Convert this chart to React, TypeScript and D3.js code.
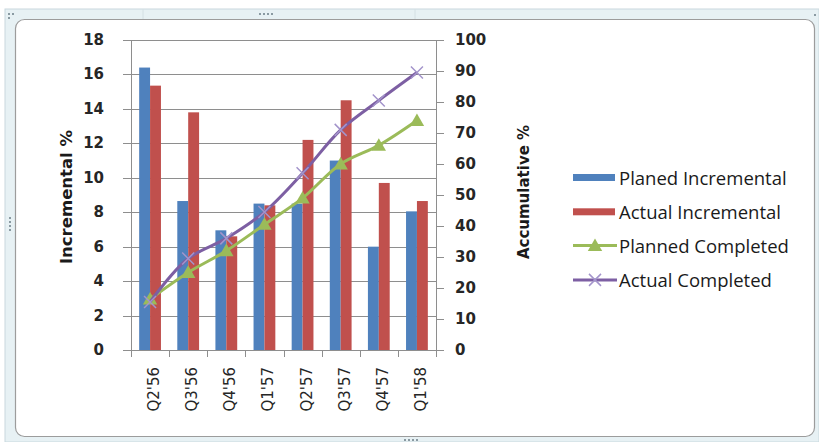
import React from "react";
import * as d3 from "d3";

const categories = ["Q2'56", "Q3'56", "Q4'56", "Q1'57", "Q2'57", "Q3'57", "Q4'57", "Q1'58"];
const plannedIncremental = [16.4, 8.65, 6.95, 8.5, 8.5, 11.0, 6.0, 8.05];
const actualIncremental = [15.35, 13.8, 6.6, 8.4, 12.2, 14.5, 9.7, 8.65];
const plannedCompleted = [16.4, 25, 32, 40.5, 49, 60, 66, 74];
const actualCompleted = [15.5, 29.5, 36, 44.5, 57, 71, 80.5, 89.5];
const leftTicks = [0, 2, 4, 6, 8, 10, 12, 14, 16, 18];
const rightTicks = [0, 10, 20, 30, 40, 50, 60, 70, 80, 90, 100];
const legendItems = ["Planed Incremental", "Actual Incremental", "Planned Completed", "Actual Completed"];

const BLUE = "#4F81BD";
const RED = "#C0504D";
const GREEN = "#9BBB59";
const PURPLE = "#7D5FA3";
const PURPLE_MARK = "#A394CB";
const GRID = "#8E8E8E";
const TXT = "#1a1a1a";

export default function App() {
  const W = 819, H = 442;
  const left = 131, right = 436, top = 40, bottom = 350;
  const x = d3.scaleBand().domain(categories).range([left, right]).paddingInner(0).paddingOuter(0);
  const bw = x.bandwidth() / 3.5;
  const yL = d3.scaleLinear().domain([0, 18]).range([bottom, top]);
  const yR = d3.scaleLinear().domain([0, 100]).range([bottom, top]);
  const cx = (c: string) => (x(c) as number) + x.bandwidth() / 2;

  const line = d3.line<number>()
    .x((_, i) => cx(categories[i]))
    .y((v) => yR(v))
    .curve(d3.curveCatmullRom.alpha(0.5));

  const tri = (px: number, py: number, s: number) =>
    `M${px},${py - s * 0.6}L${px + s * 0.6},${py + s * 0.45}L${px - s * 0.6},${py + s * 0.45}Z`;
  const cross = (px: number, py: number, s: number) =>
    `M${px - s},${py - s}L${px + s},${py + s}M${px - s},${py + s}L${px + s},${py - s}`;

  const tickFont = { fontFamily: "DejaVu Sans", fontSize: 15, fontWeight: "bold" as const, fill: "#262626" };
  const catFont = { fontFamily: "DejaVu Sans", fontSize: 15, fill: "#262626" };

  return (
    <svg width={W} height={H} style={{ position: "absolute", left: 0, top: 0 }}
      xmlns="http://www.w3.org/2000/svg">
      <rect x={0} y={0} width={W} height={H} fill="#ffffff" />
      {/* frame strip */}
      <rect x={5} y={9} width={W - 5} height={H - 9} fill="#e7f1f4" stroke="#c9d8de" strokeWidth={1} />
      <line x1={143} y1={9} x2={143} y2={19} stroke="#d4e0e4" />
      <line x1={415} y1={9} x2={415} y2={19} stroke="#d4e0e4" />
      {[0, 1, 2, 3].map((i) => (
        <rect key={"ht" + i} x={259 + i * 4} y={13} width={2} height={2} fill="#8a9aa2" />
      ))}
      {[0, 1, 2, 3].map((i) => (
        <rect key={"hb" + i} x={404 + i * 4} y={439} width={2} height={2} fill="#8a9aa2" />
      ))}
      {[0, 1, 2, 3].map((i) => (
        <rect key={"hl" + i} x={9} y={217 + i * 4} width={2} height={2} fill="#8a9aa2" />
      ))}
      <rect x={8} y={13} width={2} height={2} fill="#8a9aa2" />
      <rect x={12} y={13} width={2} height={2} fill="#8a9aa2" />
      <rect x={8} y={17} width={2} height={2} fill="#8a9aa2" />
      <rect x={814} y={14} width={2} height={2} fill="#8a9aa2" />
      <rect x={15.5} y={19.5} width={799} height={417} rx={9} ry={9} fill="#ffffff" stroke="#9c9c9c" strokeWidth={1.2} />

      {/* gridlines */}
      {leftTicks.filter((t) => t > 0).map((t) => (
        <line key={"g" + t} x1={left} x2={right} y1={Math.round(yL(t)) + 0.5} y2={Math.round(yL(t)) + 0.5}
          stroke={GRID} strokeWidth={1} />
      ))}

      {/* bars */}
      {categories.map((c, i) => {
        const x0 = (x(c) as number) + (x.bandwidth() - 2 * bw) / 2;
        return (
          <g key={"b" + c}>
            <rect x={x0} y={yL(plannedIncremental[i])} width={bw} height={bottom - yL(plannedIncremental[i])} fill={BLUE} />
            <rect x={x0 + bw} y={yL(actualIncremental[i])} width={bw} height={bottom - yL(actualIncremental[i])} fill={RED} />
          </g>
        );
      })}

      {/* axes */}
      <line x1={left + 0.5} x2={left + 0.5} y1={top} y2={bottom} stroke={GRID} />
      <line x1={right + 0.5} x2={right + 0.5} y1={top} y2={bottom} stroke={GRID} />
      <line x1={left} x2={right + 1} y1={bottom + 0.5} y2={bottom + 0.5} stroke={GRID} />
      {leftTicks.map((t) => (
        <g key={"lt" + t}>
          <line x1={left - 8} x2={left} y1={Math.round(yL(t)) + 0.5} y2={Math.round(yL(t)) + 0.5} stroke={GRID} />
          <text x={104} y={yL(t)} textAnchor="end" dominantBaseline="central" {...tickFont}>{t}</text>
        </g>
      ))}
      {rightTicks.map((t) => (
        <g key={"rt" + t}>
          <line x1={right} x2={right + 8} y1={Math.round(yR(t)) + 0.5} y2={Math.round(yR(t)) + 0.5} stroke={GRID} />
          <text x={455} y={yR(t)} textAnchor="start" dominantBaseline="central" {...tickFont}>{t}</text>
        </g>
      ))}
      {categories.map((c) => (
        <line key={"xt" + c} x1={Math.round(x(c) as number) + 0.5} x2={Math.round(x(c) as number) + 0.5}
          y1={bottom} y2={bottom + 7} stroke={GRID} />
      ))}
      <line x1={right + 0.5} x2={right + 0.5} y1={bottom} y2={bottom + 7} stroke={GRID} />
      {categories.map((c) => (
        <text key={"xl" + c} transform={`translate(${cx(c) + 4},${367}) rotate(-90)`}
          textAnchor="end" dominantBaseline="central" {...catFont}>{c}</text>
      ))}

      {/* axis titles */}
      <text transform={`translate(66,197) rotate(-90)`} textAnchor="middle" dominantBaseline="central"
        fontFamily="DejaVu Sans" fontWeight="bold" fontSize={16.5} fill={TXT}>Incremental %</text>
      <text transform={`translate(524,192) rotate(-90)`} textAnchor="middle" dominantBaseline="central"
        fontFamily="DejaVu Sans" fontWeight="bold" fontSize={15} fill={TXT}>Accumulative %</text>

      {/* lines */}
      <path d={line(plannedCompleted) || ""} fill="none" stroke={GREEN} strokeWidth={3} />
      {plannedCompleted.map((v, i) => (
        <path key={"pm" + i} d={tri(cx(categories[i]), yR(v), 12)} fill={GREEN} />
      ))}
      <path d={line(actualCompleted) || ""} fill="none" stroke={PURPLE} strokeWidth={3} />
      {actualCompleted.map((v, i) => (
        <path key={"am" + i} d={cross(cx(categories[i]), yR(v), 6)} stroke={PURPLE_MARK} strokeWidth={1.5} fill="none" />
      ))}

      {/* legend */}
      {legendItems.map((name, i) => {
        const ly = 177 + i * 34.3;
        return (
          <g key={"lg" + i}>
            {i === 0 && <rect x={573} y={ly - 3} width={42} height={7} fill={BLUE} />}
            {i === 1 && <rect x={573} y={ly - 3} width={42} height={7} fill={RED} />}
            {i === 2 && (
              <g>
                <line x1={573} x2={617} y1={ly} y2={ly} stroke={GREEN} strokeWidth={3} />
                <path d={tri(595, ly, 12)} fill={GREEN} />
              </g>
            )}
            {i === 3 && (
              <g>
                <line x1={573} x2={617} y1={ly} y2={ly} stroke={PURPLE} strokeWidth={3} />
                <path d={cross(595, ly, 6)} stroke={PURPLE_MARK} strokeWidth={1.5} fill="none" />
              </g>
            )}
            <text x={619} y={ly} dominantBaseline="central" fontFamily="Open Sans" fontSize={18.5} fill={TXT}>{name}</text>
          </g>
        );
      })}
    </svg>
  );
}
